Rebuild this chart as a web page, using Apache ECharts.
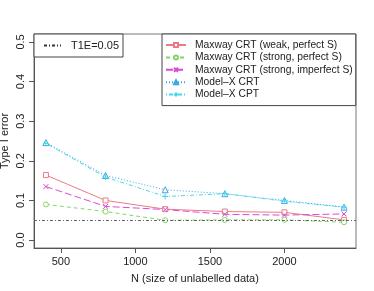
<!DOCTYPE html>
<html><head><meta charset="utf-8">
<script src="https://cdn.jsdelivr.net/npm/echarts@6/dist/echarts.min.js"></script>
<style>html,body{margin:0;padding:0;background:#fff}#c{width:374px;height:291px}</style>
</head><body><div id="c"></div>
<script>
var N = [400, 800, 1200, 1600, 2000, 2400];
var weakPerfect = [0.164, 0.100, 0.078, 0.072, 0.070, 0.051];
var strongPerfect = [0.090, 0.072, 0.050, 0.051, 0.051, 0.045];
var strongImperfect = [0.135, 0.085, 0.077, 0.065, 0.063, 0.066];
var mxCRT = [0.246, 0.163, 0.127, 0.117, 0.100, 0.083];
var mxCPT = [0.244, 0.159, 0.110, 0.117, 0.098, 0.083];
var xTicks = [500, 1000, 1500, 2000];
var yTicks = [0, 0.1, 0.2, 0.3, 0.4, 0.5];
var t1e = 0.05;
var names = ['Maxway CRT (weak, perfect S)', 'Maxway CRT (strong, perfect S)', 'Maxway CRT (strong, imperfect S)', 'Model\u2013X CRT', 'Model\u2013X CPT'];

var FONT = 'Liberation Sans, Arial, sans-serif';
function pts(ys){ return N.map(function(n,i){ return [n, ys[i]]; }); }
var xPath = 'path://M0,0L10,10M10,0L0,10';
var plusPath = 'path://M5,0L5,10M0,5L10,5';
function mk(name, ys, color, dash, symbol, size, hollow){
  return {
    name: name, type: 'line', data: pts(ys), symbol: symbol, symbolSize: size,
    lineStyle: {color: color, width: 1, type: dash},
    itemStyle: {color: hollow ? '#fff' : color, borderColor: color, borderWidth: 1},
    emphasis: {disabled: true}, z: 3
  };
}
var chart = echarts.init(document.getElementById('c'), null, {renderer: 'canvas'});
chart.setOption({
  animation: false,
  grid: {left: 34, top: 34, right: 18, bottom: 43, containLabel: false, outerBoundsMode: 'none',
    show: true, borderColor: '#777', borderWidth: 1, backgroundColor: 'transparent'},
  xAxis: {
    type: 'value', min: 320, max: 2480,
    name: 'N (size of unlabelled data)', nameLocation: 'middle', nameGap: 25, nameMoveOverlap: false,
    nameTextStyle: {fontFamily: FONT, fontSize: 11, color: '#222'},
    axisLine: {show: true, onZero: false, lineStyle: {color: '#555'}},
    axisTick: {show: true, length: 5, customValues: xTicks, lineStyle: {color: '#555'}},
    axisLabel: {customValues: xTicks, margin: 8, fontFamily: FONT, fontSize: 11, color: '#222',
      formatter: function(v){ return String(v); }},
    splitLine: {show: false}
  },
  yAxis: {
    type: 'value', min: -0.02, max: 0.52,
    name: 'Type I error', nameLocation: 'middle', nameGap: 24, nameRotate: 90, nameMoveOverlap: false,
    nameTextStyle: {fontFamily: FONT, fontSize: 11, color: '#222'},
    axisLine: {show: true, onZero: false, lineStyle: {color: '#555'}},
    axisTick: {show: true, length: 5, customValues: yTicks, lineStyle: {color: '#555'}},
    axisLabel: {customValues: yTicks, rotate: 90, margin: 8, fontFamily: FONT, fontSize: 11, color: '#222',
      formatter: function(v){ return v.toFixed(1); }},
    splitLine: {show: false}
  },
  legend: [
    {
      data: [{name: 'T1E=0.05', itemStyle: {opacity: 0}}], orient: 'vertical', left: 34, top: 34,
      padding: [6, 4, 6, 9], itemWidth: 17, itemHeight: 8,
      borderColor: '#444', borderWidth: 1, backgroundColor: '#fff',
      textStyle: {fontFamily: FONT, fontSize: 11, color: '#222', padding: [0, 0, 0, 5]},
      selectedMode: false
    },
    {
      data: names, orient: 'vertical', left: 162, top: 34,
      padding: [5, 3, 5, 3], itemWidth: 20, itemHeight: 5, itemGap: 0.4,
      borderColor: '#444', borderWidth: 1, backgroundColor: '#fff',
      textStyle: {fontFamily: FONT, fontSize: 10.3, color: '#222', lineHeight: 12, padding: [0, 0, 0, 4]},
      selectedMode: false
    }
  ],
  series: [
    {
      name: 'T1E=0.05', type: 'line', data: [], symbol: 'none',
      itemStyle: {color: '#333'},
      lineStyle: {color: '#333', width: 1, type: [3, 2, 1, 2]},
      markLine: {
        silent: true, symbol: 'none', label: {show: false},
        lineStyle: {color: '#666', width: 1, type: [3, 2, 1, 2]},
        data: [{yAxis: t1e}]
      }, z: 2
    },
    mk(names[0], weakPerfect, '#EC7A84', 'solid', 'rect', 5, true),
    mk(names[1], strongPerfect, '#86D46A', [4, 3], 'circle', 5, true),
    mk(names[2], strongImperfect, '#D84BD8', [7, 3], xPath, 5, false),
    mk(names[3], mxCRT, '#3AA6E6', [1, 2], 'triangle', 6, true),
    mk(names[4], mxCPT, '#45D9E8', [1, 2, 4, 2], plusPath, 6, false)
  ]
});
</script></body></html>
